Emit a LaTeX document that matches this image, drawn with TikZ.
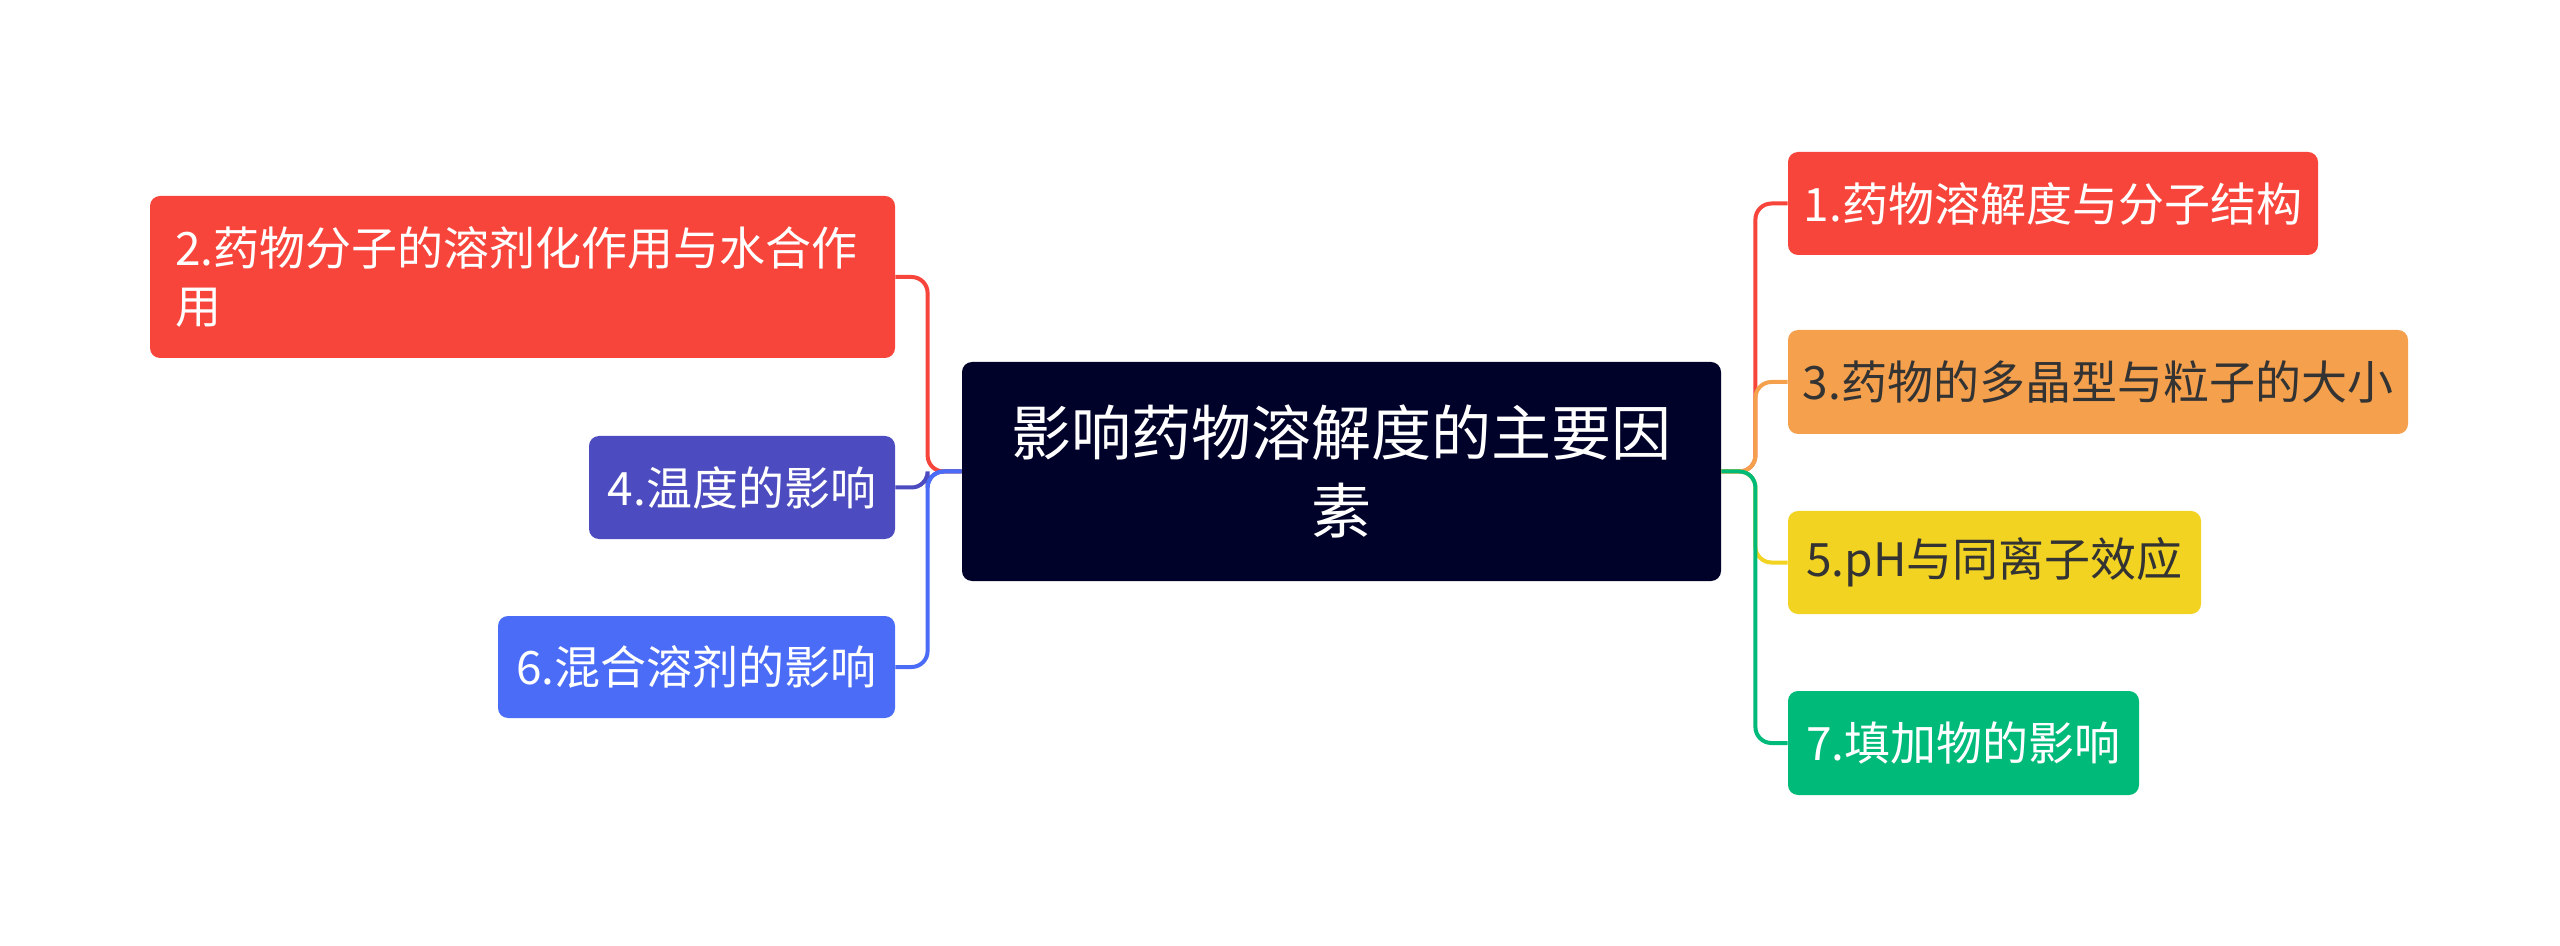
\documentclass[tikz,border=0pt]{standalone}
\usepackage{fontspec}
\setmainfont{Noto Sans CJK SC}
\definecolor{cred}{HTML}{F8453C}
\definecolor{corange}{HTML}{F4A04D}
\definecolor{cyellow}{HTML}{F2D322}
\definecolor{cgreen}{HTML}{00BA79}
\definecolor{cpurple}{HTML}{4C4BBF}
\definecolor{cblue}{HTML}{4A6CF7}
\definecolor{cnavy}{HTML}{000229}
\definecolor{cdark}{HTML}{333333}
\begin{document}
\begin{tikzpicture}[x=0.5pt,y=-0.5pt,
  box/.style={rounded corners=5pt, inner sep=0pt, align=center,
    font=\fontsize{23pt}{28.5pt}\selectfont},
  link/.style={line width=2pt, rounded corners=8pt}]
\useasboundingbox[fill=white] (0,0) rectangle (2560,946);
\node[box, fill=cnavy, text=white, minimum width=379.5pt, minimum height=109.5pt,
  font=\fontsize{30pt}{39pt}\selectfont] (c) at (1341.5,471.5) {影响药物溶解度的主要因\\素};
\node[box, fill=cred, text=white, minimum height=81pt, text width=347.5pt,
  inner xsep=12.5pt, align=left] (n2) at (522.5,277) {2.药物分子的溶剂化作用与水合作\\用};
\node[box, fill=cpurple, text=white, minimum width=153pt, minimum height=51.5pt] (n4) at (742,487.5) {4.温度的影响};
\node[box, fill=cblue, text=white, minimum width=198.5pt, minimum height=51pt] (n6) at (696.5,667) {6.混合溶剂的影响};
\node[box, fill=cred, text=white, minimum width=265pt, minimum height=51.5pt] (n1) at (2053,203.5) {1.药物溶解度与分子结构};
\node[box, fill=corange, text=cdark, minimum width=310pt, minimum height=52pt] (n3) at (2098,382) {3.药物的多晶型与粒子的大小};
\node[box, fill=cyellow, text=cdark, minimum width=206.5pt, minimum height=51.5pt] (n5) at (1994.5,562.5) {5.pH与同离子效应};
\node[box, fill=cgreen, text=white, minimum width=175.5pt, minimum height=52pt] (n7) at (1963.5,743) {7.填加物的影响};
\draw[link, cred] (c.west) -- ++(-34,0) |- (n2.east);
\draw[link, cpurple] (c.west) -- ++(-34,0) |- (n4.east);
\draw[link, cblue] (c.west) -- ++(-34,0) |- (n6.east);
\draw[link, cred] (c.east) -- ++(34,0) |- (n1.west);
\draw[link, corange] (c.east) -- ++(34,0) |- (n3.west);
\draw[link, cyellow] (c.east) -- ++(34,0) |- (n5.west);
\draw[link, cgreen] (c.east) -- ++(34,0) |- (n7.west);
\end{tikzpicture}
\end{document}
